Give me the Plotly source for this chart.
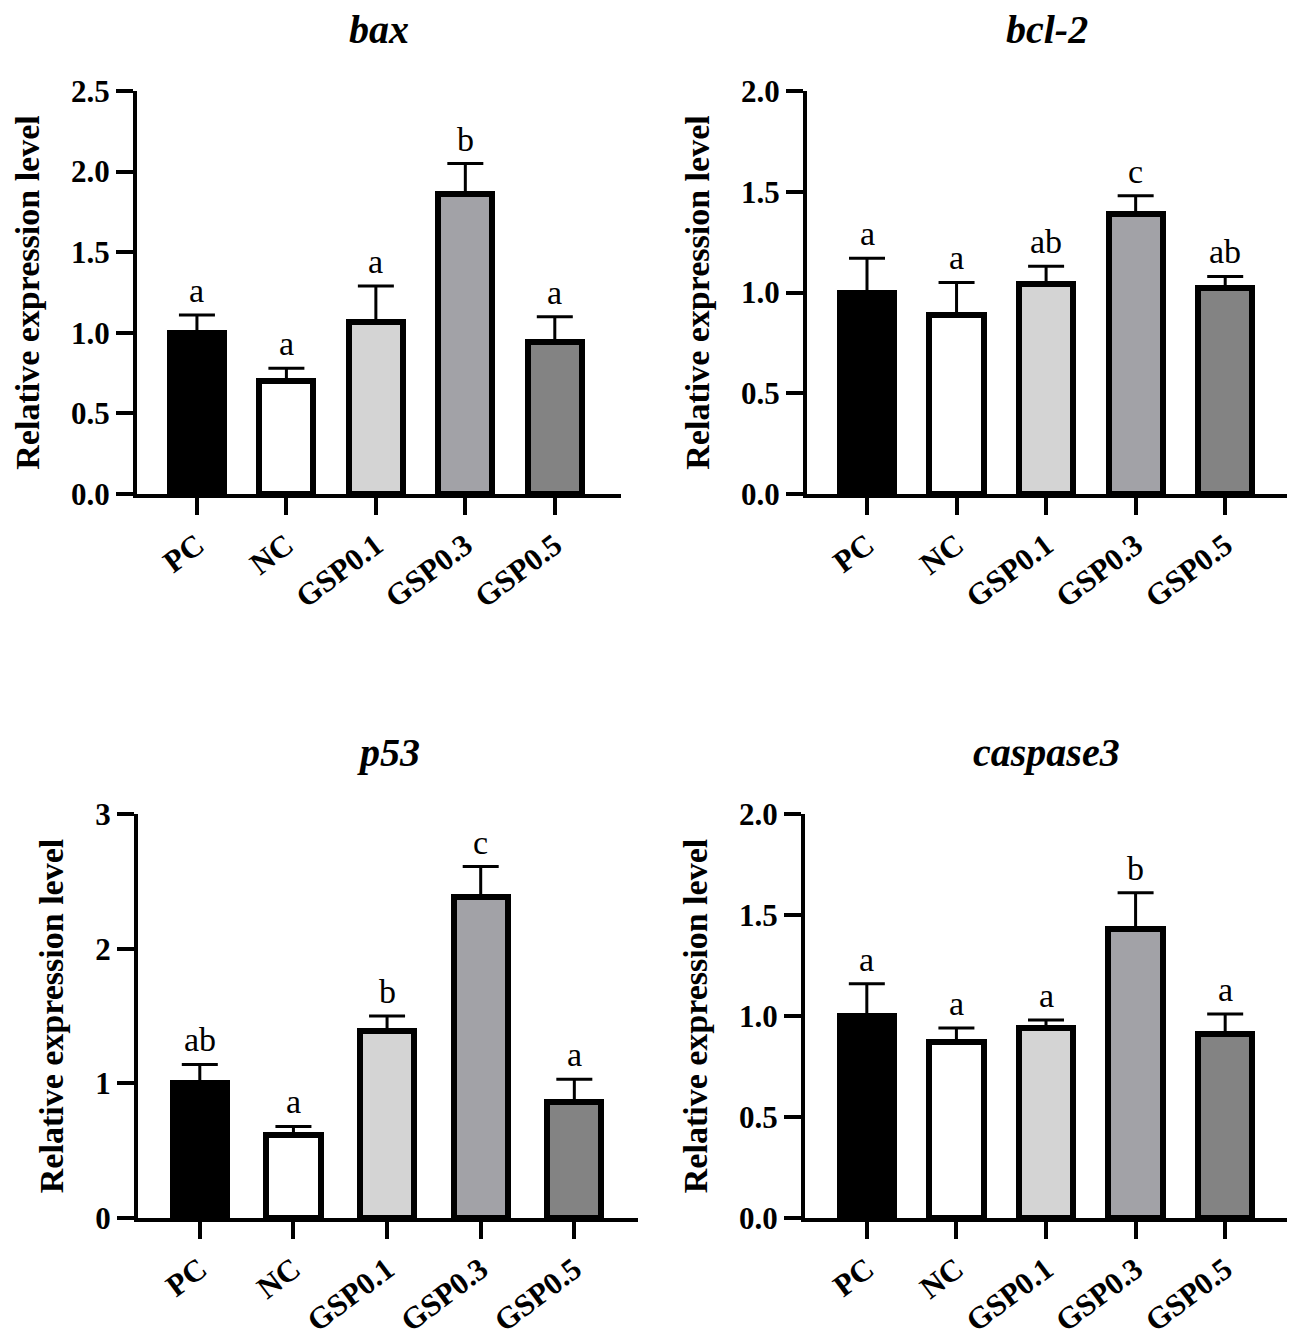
import plotly.graph_objects as go

# ---- data ----
groups = ["PC", "NC", "GSP0.1", "GSP0.3", "GSP0.5"]
bar_colors = ["#000000", "#ffffff", "#d4d4d4", "#a2a2a7", "#838383"]

bax_mean = [1.00, 0.70, 1.07, 1.86, 0.94]
bax_sd = [0.11, 0.08, 0.22, 0.19, 0.16]
bax_sig = ["a", "a", "a", "b", "a"]

bcl2_mean = [1.00, 0.89, 1.04, 1.39, 1.02]
bcl2_sd = [0.17, 0.16, 0.09, 0.09, 0.06]
bcl2_sig = ["a", "a", "ab", "c", "ab"]

p53_mean = [1.00, 0.62, 1.39, 2.38, 0.86]
p53_sd = [0.14, 0.06, 0.11, 0.23, 0.17]
p53_sig = ["ab", "a", "b", "c", "a"]

casp3_mean = [1.00, 0.87, 0.94, 1.43, 0.91]
casp3_sd = [0.16, 0.07, 0.04, 0.18, 0.10]
casp3_sig = ["a", "a", "a", "b", "a"]

y_title = "Relative expression level"

W, H = 1299, 1339
SERIF = "Liberation Serif"

panels = [
    dict(title="bax", mean=bax_mean, sd=bax_sd, sig=bax_sig,
         xd=(137, 621), yd=(91, 494), yr=[0, 2.5], dt=0.5, fmt=".1f",
         xr=[-0.67, 4.74], bw=0.605),
    dict(title="bcl-2", mean=bcl2_mean, sd=bcl2_sd, sig=bcl2_sig,
         xd=(807, 1287), yd=(91, 494), yr=[0, 2.0], dt=0.5, fmt=".1f",
         xr=[-0.67, 4.69], bw=0.605),
    dict(title="p53", mean=p53_mean, sd=p53_sd, sig=p53_sig,
         xd=(138, 638), yd=(814, 1218), yr=[0, 3], dt=1, fmt="d",
         xr=[-0.66, 4.68], bw=0.58),
    dict(title="caspase3", mean=casp3_mean, sd=casp3_sd, sig=casp3_sig,
         xd=(805, 1287), yd=(814, 1218), yr=[0, 2.0], dt=0.5, fmt=".1f",
         xr=[-0.69, 4.69], bw=0.605),
]

fig = go.Figure()
annotations = []
layout = {}

for i, p in enumerate(panels):
    k = "" if i == 0 else str(i + 1)
    xa, ya = "x" + k, "y" + k
    xs = list(range(len(groups)))
    fig.add_trace(go.Bar(
        x=xs, y=p["mean"], width=p["bw"],
        marker=dict(color=bar_colors, line=dict(color="black", width=6)),
        error_y=dict(type="data", symmetric=False, array=p["sd"],
                     arrayminus=[0] * len(groups),
                     color="black", thickness=3, width=18),
        xaxis=xa, yaxis=ya, showlegend=False,
    ))
    x0, x1 = p["xd"]
    ytop, ybot = p["yd"]
    layout["xaxis" + k] = dict(
        domain=[x0 / W, x1 / W], range=p["xr"], anchor=ya,
        tickmode="array", tickvals=xs, ticktext=groups, tickangle=-37,
        showline=True, linecolor="black", linewidth=4,
        ticks="outside", ticklen=17, tickwidth=4, tickcolor="black",
        showgrid=False, zeroline=False, fixedrange=True, automargin=False,
        tickfont=dict(family=SERIF, size=31, color="black", weight="bold"),
    )
    n = int(round(p["yr"][1] / p["dt"]))
    tv = [round(j * p["dt"], 2) for j in range(n + 1)]
    layout["yaxis" + k] = dict(
        domain=[1 - ybot / H, 1 - ytop / H], range=p["yr"], anchor=xa,
        tickmode="array", tickvals=tv, tickformat=p["fmt"],
        showline=True, linecolor="black", linewidth=4,
        ticks="outside", ticklen=17, tickwidth=4, tickcolor="black",
        showgrid=False, zeroline=False, fixedrange=True,
        tickfont=dict(family=SERIF, size=31, color="black", weight="bold"),
        title=dict(text=y_title, standoff=22,
                   font=dict(family=SERIF, size=34, color="black", weight="bold")),
        automargin=False,
    )
    annotations.append(dict(
        text="<b><i>%s</i></b>" % p["title"], xref="paper", yref="paper",
        x=(x0 + x1) / 2 / W, y=1 - (ytop - 61) / H, xanchor="center", yanchor="middle",
        showarrow=False, font=dict(family=SERIF, size=40, color="black"),
    ))
    for j, (m, s, lab) in enumerate(zip(p["mean"], p["sd"], p["sig"])):
        annotations.append(dict(
            text=lab, xref=xa, yref=ya, x=j, y=m + s, xanchor="center",
            yanchor="bottom", yshift=4, showarrow=False,
            font=dict(family=SERIF, size=34, color="black"),
        ))

fig.update_layout(
    width=W, height=H, margin=dict(l=0, r=0, t=0, b=0),
    paper_bgcolor="white", plot_bgcolor="white",
    annotations=annotations, bargap=0, **layout,
)

fig.write_html("out.html", config={"displayModeBar": False},
               post_script="document.body.style.margin='0';document.body.style.padding='0';")
